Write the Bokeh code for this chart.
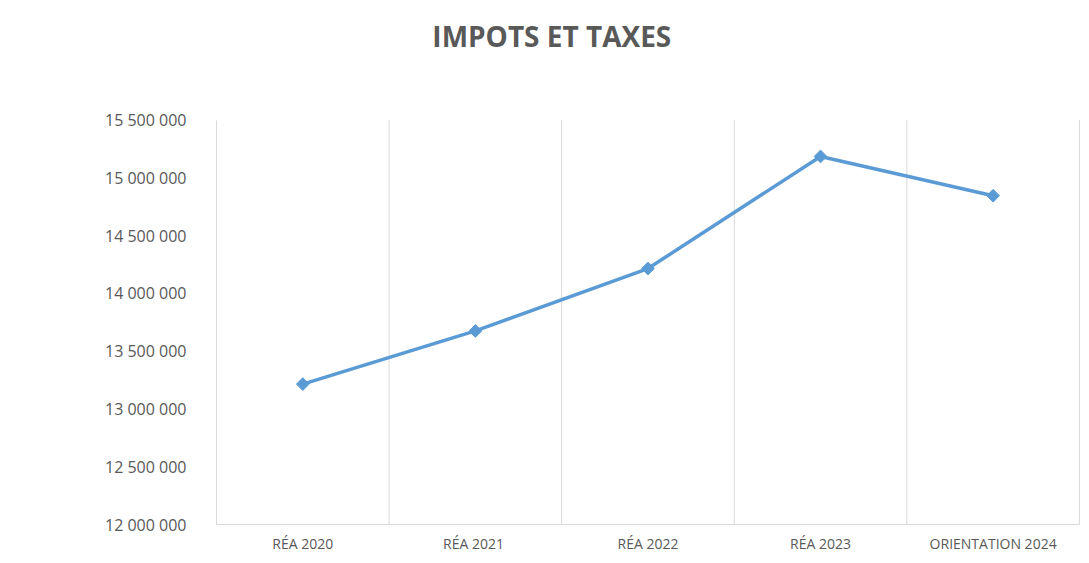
import math
from bokeh.plotting import figure
from bokeh.models import FixedTicker, Range1d
from bokeh.core.properties import value
from bokeh.embed import file_html
from bokeh.resources import INLINE

# ---- data ----
categories = ["RÉA 2020", "RÉA  2021", "RÉA 2022", "RÉA 2023", "ORIENTATION 2024"]
values = [13215000, 13675000, 14215000, 15185000, 14845000]
y_ticks = [12000000, 12500000, 13000000, 13500000, 14000000, 14500000, 15000000, 15500000]
y_tick_labels = ["12 000 000", "12 500 000", "13 000 000", "13 500 000",
                 "14 000 000", "14 500 000", "15 000 000", "15 500 000"]
title_text = "IMPOTS  ET TAXES"

n = len(categories)
xs = [i + 0.5 for i in range(n)]
grid_positions = list(range(1, n + 1))

FONT = "Open Sans"
TXT = "#595959"
GRID = "#d9d9d9"
BLUE = "#5B9BD5"

# layout (pixels): the frame spans the full height above the x axis so the
# title can live inside it; the value axis occupies the lower 406 px.
FRAME_H = 526
AXIS_TOP = 120
TITLE_Y = 36
y_lo, y_hi = y_ticks[0], y_ticks[-1]
per_px = (y_hi - y_lo) / (FRAME_H - AXIS_TOP)
y_top = y_lo + FRAME_H * per_px

p = figure(width=1081, height=555, output_backend="svg", toolbar_location=None,
           x_range=Range1d(0, n + 0.012), y_range=Range1d(y_lo, y_top),
           min_border_left=216, min_border_right=0, min_border_top=0, min_border_bottom=29)

p.background_fill_color = "white"
p.border_fill_color = "white"
p.outline_line_color = None
p.grid.grid_line_color = None

# title
p.text(x=[1.964], y=[y_lo + (FRAME_H - TITLE_Y) * per_px], text=[title_text],
       text_align="center", text_baseline="alphabetic",
       text_font=value(FONT), text_font_size="28px", text_font_style="bold",
       text_color=TXT)

# vertical grid lines between categories
p.segment(x0=grid_positions, y0=[y_lo] * len(grid_positions),
          x1=grid_positions, y1=[y_hi] * len(grid_positions),
          line_color=GRID, line_width=1)

# x axis
p.xaxis.ticker = FixedTicker(ticks=xs)
p.xaxis.major_label_overrides = {x: c for x, c in zip(xs, categories)}
p.xaxis.axis_line_color = GRID
p.xaxis.bounds = (0, n)
p.xaxis.major_tick_in = 0
p.xaxis.major_tick_out = 0
p.xaxis.minor_tick_line_color = None
p.xaxis.major_label_text_font = FONT
p.xaxis.major_label_text_font_size = "14px"
p.xaxis.major_label_text_color = TXT
p.xaxis.major_label_standoff = 9

# y axis
p.yaxis.ticker = FixedTicker(ticks=y_ticks)
p.yaxis.major_label_overrides = {t: l for t, l in zip(y_ticks, y_tick_labels)}
p.yaxis.bounds = (y_lo, y_hi)
p.yaxis.axis_line_color = GRID
p.yaxis.major_tick_in = 0
p.yaxis.major_tick_out = 0
p.yaxis.minor_tick_line_color = None
p.yaxis.major_label_text_font = FONT
p.yaxis.major_label_text_font_size = "16px"
p.yaxis.major_label_text_color = TXT
p.yaxis.major_label_standoff = 30

# series
p.line(xs, values, line_color=BLUE, line_width=3.5)
p.scatter(xs, values, marker="square", angle=math.pi / 4, size=9,
          fill_color=BLUE, line_color=BLUE)

open("out.html", "w").write(file_html(p, INLINE))
